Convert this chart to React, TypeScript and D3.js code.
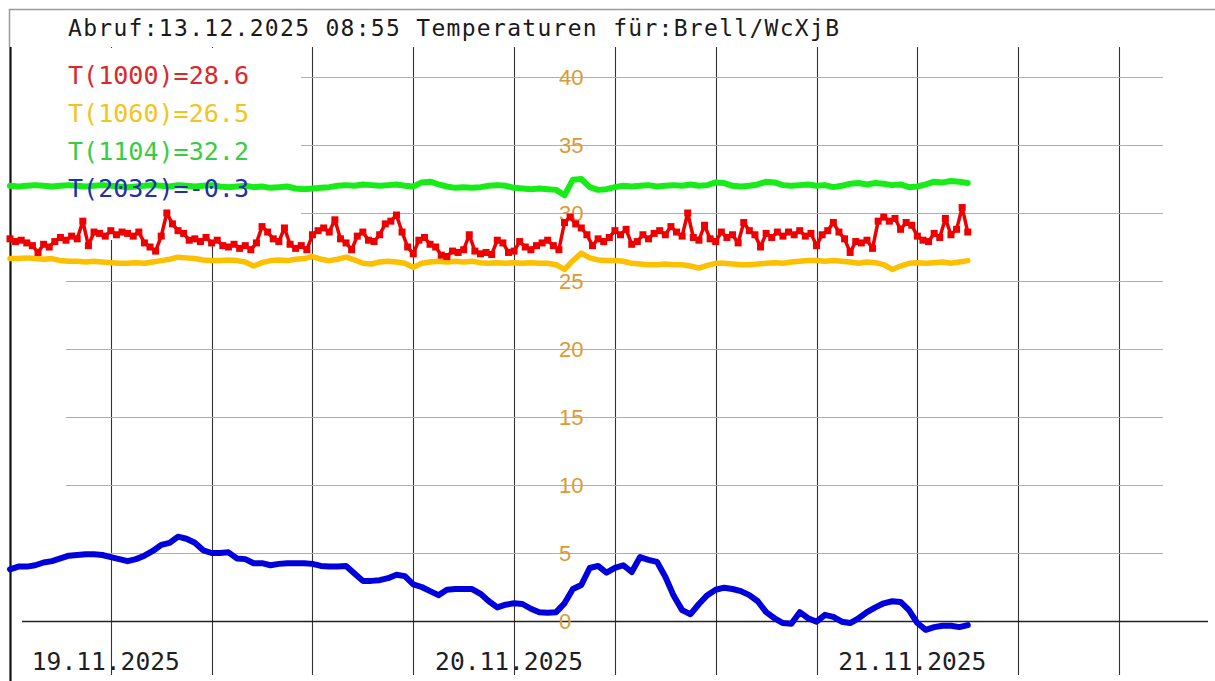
import React, { useEffect, useRef } from 'react';
import * as d3 from 'd3';

const TITLE = 'Abruf:13.12.2025 08:55 Temperaturen für:Brell/WcXjB';
const LEGEND = ['T(1000)=28.6', 'T(1060)=26.5', 'T(1104)=32.2', 'T(2032)=-0.3'];
const DAY_LABELS = ['19.11.2025', '20.11.2025', '21.11.2025'];
const DAYS = [new Date(2025, 10, 19, 0, 0), new Date(2025, 10, 20, 0, 0), new Date(2025, 10, 21, 0, 0)];
const Y_TICKS = [0, 5, 10, 15, 20, 25, 30, 35, 40];

// x axis runs from 18.11 18:00 to 21.11 12:00, grid every 6 hours
const START = new Date(2025, 10, 18, 18, 0);
const END = new Date(2025, 10, 21, 12, 0);
const STEP_MIN = 30; // yellow, green, blue
const RED_STEP_MIN = 20; // red sensor is logged more often

// T(1000) red
const t1000 = [
  28.1, 27.9, 28.0, 27.8, 27.6, 27.1, 27.7, 27.5, 27.9, 28.2,
  28.0, 28.3, 28.1, 29.4, 27.6, 28.6, 28.5, 28.3, 28.7, 28.4,
  28.6, 28.5, 28.3, 28.6, 27.8, 27.5, 27.2, 28.3, 30.0, 29.2,
  28.7, 28.5, 28.0, 28.1, 27.9, 28.2, 27.8, 28.0, 27.6, 27.5,
  27.7, 27.4, 27.6, 27.3, 27.8, 29.0, 28.6, 28.1, 27.9, 28.9,
  27.7, 27.4, 27.6, 27.3, 28.4, 28.7, 28.9, 28.6, 29.5, 28.1,
  27.8, 27.3, 28.3, 28.6, 28.0, 27.9, 28.4, 29.2, 29.4, 29.85,
  28.6, 27.5, 27.0, 28.0, 28.2, 27.7, 27.5, 26.9, 26.8, 27.2,
  27.1, 27.3, 28.4, 27.2, 27.0, 27.1, 26.95, 28.0, 27.8, 27.1,
  27.2, 27.9, 27.5, 27.3, 27.6, 27.8, 28.0, 27.6, 27.3, 29.3,
  29.7, 29.2, 28.9, 28.4, 27.6, 28.1, 27.9, 28.2, 28.7, 28.4,
  28.8, 27.7, 27.9, 28.4, 28.1, 28.5, 28.7, 28.4, 29.0, 28.6,
  28.3, 30.0, 28.2, 28.0, 29.1, 28.1, 27.9, 28.6, 28.2, 28.4,
  27.8, 29.3, 28.7, 28.4, 27.5, 28.5, 28.2, 28.6, 28.3, 28.6,
  28.4, 28.7, 28.3, 28.5, 27.6, 28.4, 28.7, 29.3, 28.6, 28.1,
  27.1, 27.9, 27.8, 28.0, 27.4, 29.4, 29.7, 29.4, 29.6, 28.8,
  29.3, 29.1, 28.3, 28.0, 27.9, 28.5, 28.2, 29.6, 28.4, 28.8,
  30.4, 28.6,
];

// T(1060) yellow
const t1060 = [
  26.65, 26.65, 26.7, 26.65, 26.6, 26.65, 26.5, 26.45, 26.45, 26.4,
  26.45, 26.4, 26.35, 26.3, 26.3, 26.35, 26.3, 26.4, 26.5, 26.6,
  26.75, 26.7, 26.65, 26.55, 26.5, 26.5, 26.55, 26.5, 26.4, 26.1,
  26.35, 26.5, 26.55, 26.5, 26.6, 26.65, 26.8, 26.6, 26.5, 26.6,
  26.75, 26.55, 26.3, 26.25, 26.4, 26.45, 26.4, 26.3, 26.0, 26.3,
  26.4, 26.45, 26.4, 26.45, 26.4, 26.45, 26.35, 26.3, 26.35, 26.3,
  26.35, 26.3, 26.35, 26.3, 26.3, 26.2, 25.85, 26.5, 27.05, 26.7,
  26.55, 26.5, 26.5, 26.45, 26.3, 26.25, 26.2, 26.2, 26.25, 26.2,
  26.2, 26.1, 25.95, 26.15, 26.3, 26.3, 26.25, 26.2, 26.2, 26.25,
  26.3, 26.35, 26.3, 26.4, 26.45, 26.5, 26.5, 26.45, 26.5, 26.45,
  26.4, 26.3, 26.4, 26.35, 26.2, 25.85, 26.1, 26.3, 26.35, 26.3,
  26.35, 26.4, 26.3, 26.4, 26.5,
];

// T(1104) green
const t1104 = [
  32.0, 31.95, 32.0, 32.05, 32.0, 31.95, 32.0, 32.05, 32.0, 31.95,
  32.0, 32.05, 32.0, 31.95, 31.9, 31.95, 32.0, 32.05, 32.0, 31.95,
  32.05, 32.0, 31.95, 32.0, 32.05, 31.95, 31.9, 31.95, 32.0, 31.9,
  31.95, 31.85, 31.9, 31.95, 31.8, 31.75, 31.8, 31.85, 31.9, 32.0,
  32.05, 32.0, 32.1, 32.05, 32.0, 32.05, 32.1, 32.0, 31.95, 32.25,
  32.3, 32.1, 31.95, 31.85, 31.9, 31.85, 31.9, 32.0, 32.05, 32.0,
  31.85, 31.8, 31.75, 31.8, 31.75, 31.7, 31.3, 32.45, 32.5, 31.9,
  31.7, 31.75, 31.9, 32.0, 31.95, 32.0, 32.05, 31.95, 32.0, 32.05,
  32.0, 32.1, 32.0, 32.05, 32.25, 32.2, 32.0, 31.95, 32.0, 32.1,
  32.3, 32.25, 32.05, 32.0, 32.05, 32.1, 32.0, 32.05, 31.9, 32.0,
  32.15, 32.2, 32.1, 32.2, 32.15, 32.05, 32.1, 31.9, 31.95, 32.1,
  32.3, 32.25, 32.35, 32.3, 32.2,
];

// T(2032) blue
const t2032 = [
  3.8, 4.0, 4.0, 4.1, 4.3, 4.4, 4.6, 4.8, 4.85, 4.9,
  4.9, 4.85, 4.7, 4.55, 4.4, 4.55, 4.8, 5.15, 5.6, 5.75,
  6.2, 6.05, 5.75, 5.2, 5.0, 5.0, 5.05, 4.6, 4.55, 4.25,
  4.25, 4.1, 4.2, 4.25, 4.25, 4.25, 4.2, 4.05, 4.0, 4.0,
  4.05, 3.5, 2.95, 2.95, 3.0, 3.15, 3.4, 3.3, 2.7, 2.5,
  2.2, 1.9, 2.3, 2.35, 2.35, 2.35, 2.0, 1.45, 1.0, 1.2,
  1.3, 1.25, 0.9, 0.65, 0.6, 0.65, 1.3, 2.35, 2.65, 3.9,
  4.05, 3.55, 3.9, 4.1, 3.6, 4.7, 4.5, 4.35, 3.25, 1.85,
  0.8, 0.5, 1.25, 1.9, 2.3, 2.45, 2.35, 2.2, 1.9, 1.45,
  0.65, 0.2, -0.15, -0.2, 0.65, 0.2, -0.05, 0.45, 0.3, -0.05,
  -0.15, 0.2, 0.65, 1.0, 1.3, 1.45, 1.4, 0.8, -0.15, -0.65,
  -0.45, -0.35, -0.35, -0.45, -0.3,
];

const LEGEND_COLORS = ['#dc2828', '#f2c41c', '#38cc44', '#1f2fb0'];

function App() {
  const ref = useRef(null);

  useEffect(() => {
    const width = 1215;
    const height = 681;

    const root = d3.select(ref.current);
    root.selectAll('*').remove();

    const svg = root.append('svg')
      .attr('width', width)
      .attr('height', height)
      .style('position', 'absolute')
      .style('left', 0)
      .style('top', 0)
      .style('background', '#fff');

    const xScale = d3.scaleTime().domain([START, END]).range([10, 1119]);
    const yScale = d3.scaleLinear().domain([0, 40]).range([621, 77]);

    const at = (step) => (d, i) => xScale(new Date(START.getTime() + i * step * 60000));

    // frame
    svg.append('line').attr('x1', 9).attr('x2', width).attr('y1', 9.5).attr('y2', 9.5)
      .attr('stroke', '#9a9a9a').attr('stroke-width', 1.5);
    svg.append('line').attr('x1', 9.5).attr('x2', 9.5).attr('y1', 9).attr('y2', 47)
      .attr('stroke', '#9a9a9a').attr('stroke-width', 1.5);
    svg.append('line').attr('x1', 10.5).attr('x2', 10.5).attr('y1', 47).attr('y2', height)
      .attr('stroke', '#111').attr('stroke-width', 2.2);

    // vertical gridlines every 6 hours
    const vTicks = xScale.ticks(d3.timeHour.every(6)).filter(d => d > START);
    svg.append('g').selectAll('line')
      .data(vTicks)
      .enter().append('line')
      .attr('x1', d => Math.round(xScale(d)) + 0.5)
      .attr('x2', d => Math.round(xScale(d)) + 0.5)
      .attr('y1', 47)
      .attr('y2', 675)
      .attr('stroke', '#333')
      .attr('stroke-width', 1.1);

    // horizontal gridlines
    svg.append('g').selectAll('line')
      .data(Y_TICKS.filter(d => d > 0))
      .enter().append('line')
      .attr('x1', 66)
      .attr('x2', 1163)
      .attr('y1', d => Math.round(yScale(d)) + 0.5)
      .attr('y2', d => Math.round(yScale(d)) + 0.5)
      .attr('stroke', '#dba955')
      .attr('stroke-width', 1);

    // the legend sits on a white box that hides the grid
    svg.append('rect').attr('x', 12).attr('y', 48).attr('width', 289).attr('height', 192)
      .attr('fill', '#fff');

    // x axis line
    svg.append('line').attr('x1', 22).attr('x2', 1208)
      .attr('y1', Math.round(yScale(0)) + 0.5).attr('y2', Math.round(yScale(0)) + 0.5)
      .attr('stroke', '#222').attr('stroke-width', 1.5);

    // y labels
    svg.append('g').selectAll('text')
      .data(Y_TICKS)
      .enter().append('text')
      .attr('x', 559)
      .attr('y', d => yScale(d) + 8)
      .attr('font-family', '"Liberation Sans", Arial, sans-serif')
      .attr('font-size', 22)
      .attr('fill', '#db9a33')
      .text(d => d);

    // day labels
    svg.append('g').selectAll('text')
      .data(DAYS)
      .enter().append('text')
      .attr('x', d => xScale(d) - 79)
      .attr('y', 670)
      .attr('font-family', '"DejaVu Sans Mono", monospace')
      .attr('font-size', 24)
      .attr('textLength', 148)
      .attr('lengthAdjust', 'spacingAndGlyphs')
      .attr('fill', '#1e1e1e')
      .text((d, i) => DAY_LABELS[i]);

    const line = (step) => d3.line()
      .x(at(step))
      .y(d => yScale(d));

    // green
    svg.append('path').datum(t1104)
      .attr('d', line(STEP_MIN))
      .attr('fill', 'none').attr('stroke', '#18ec18').attr('stroke-width', 6)
      .attr('stroke-linejoin', 'round').attr('stroke-linecap', 'round');

    // yellow
    svg.append('path').datum(t1060)
      .attr('d', line(STEP_MIN))
      .attr('fill', 'none').attr('stroke', '#fcc000').attr('stroke-width', 5.5)
      .attr('stroke-linejoin', 'round').attr('stroke-linecap', 'round');

    // red: line with square markers
    svg.append('path').datum(t1000)
      .attr('d', line(RED_STEP_MIN))
      .attr('fill', 'none').attr('stroke', '#ee0000').attr('stroke-width', 3.5)
      .attr('stroke-linejoin', 'round');
    svg.append('g').selectAll('rect')
      .data(t1000)
      .enter().append('rect')
      .attr('x', (d, i) => at(RED_STEP_MIN)(d, i) - 3.5)
      .attr('y', d => yScale(d) - 3.5)
      .attr('width', 7)
      .attr('height', 7)
      .attr('fill', '#ee0000');

    // blue
    svg.append('path').datum(t2032)
      .attr('d', line(STEP_MIN))
      .attr('fill', 'none').attr('stroke', '#0000dd').attr('stroke-width', 6)
      .attr('stroke-linejoin', 'round').attr('stroke-linecap', 'round');

    // legend
    const legendY = [84, 122, 159.5, 197];
    svg.append('g').selectAll('text')
      .data(LEGEND)
      .enter().append('text')
      .attr('x', 68)
      .attr('y', (d, i) => legendY[i])
      .attr('font-family', '"DejaVu Sans Mono", monospace')
      .attr('font-size', 24)
      .attr('textLength', 181)
      .attr('lengthAdjust', 'spacingAndGlyphs')
      .attr('fill', (d, i) => LEGEND_COLORS[i])
      .text(d => d);

    // title
    svg.append('text')
      .attr('x', 68)
      .attr('y', 36)
      .attr('font-family', '"DejaVu Sans Mono", monospace')
      .attr('font-size', 23)
      .attr('textLength', 771)
      .attr('lengthAdjust', 'spacing')
      .attr('fill', '#1a1a1a')
      .text(TITLE);
  }, []);

  return <div ref={ref}></div>;
}

export default App;
